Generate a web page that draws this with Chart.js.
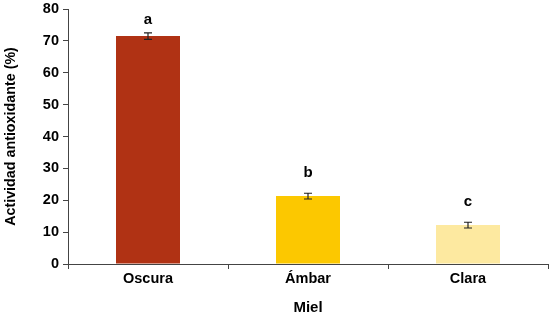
<!DOCTYPE html>
<html><head><meta charset="utf-8">
<script src="https://cdn.jsdelivr.net/npm/chart.js@4/dist/chart.umd.min.js"></script>
<style>html,body{margin:0;padding:0;background:#fff;}#wrap{width:550px;height:317px;}</style>
</head><body><div id="wrap"><canvas id="c" width="550" height="317"></canvas></div>
<script>
const categories = ['Oscura', 'Ámbar', 'Clara'];
const values = [71.5, 21.3, 12.2];
const errors = [1.0, 0.9, 0.9];
const letters = ['a', 'b', 'c'];
const colors = ['#B03214', '#FCC800', '#FDE9A0'];
const yTicks = [0, 10, 20, 30, 40, 50, 60, 70, 80];

const FONT = 'Liberation Sans, Arial, sans-serif';

const errPlugin = {
  id: 'errbars',
  afterDatasetsDraw(chart) {
    const ctx = chart.ctx;
    const meta = chart.getDatasetMeta(0);
    const y = chart.scales.y;
    ctx.save();
    meta.data.forEach((bar, i) => {
      const x = bar.x;
      const yHi = y.getPixelForValue(values[i] + errors[i]);
      const yLo = y.getPixelForValue(values[i] - errors[i]);
      ctx.strokeStyle = '#222';
      ctx.lineWidth = 1.2;
      ctx.beginPath();
      ctx.moveTo(x, yHi); ctx.lineTo(x, yLo);
      ctx.moveTo(x - 4, yHi); ctx.lineTo(x + 4, yHi);
      ctx.moveTo(x - 4, yLo); ctx.lineTo(x + 4, yLo);
      ctx.stroke();
      ctx.fillStyle = '#000';
      ctx.font = 'bold 15px ' + FONT;
      ctx.textAlign = 'center';
      ctx.textBaseline = 'middle';
      const ty = Math.max(yHi - 20, chart.chartArea.top + 11);
      ctx.fillText(letters[i], x, ty);
    });
    ctx.restore();
  }
};

new Chart(document.getElementById('c'), {
  type: 'bar',
  data: {
    labels: categories,
    datasets: [{
      data: values,
      backgroundColor: colors,
      borderWidth: 0,
      barPercentage: 0.4,
      categoryPercentage: 1.0
    }]
  },
  options: {
    responsive: false,
    animation: false,
    layout: { padding: { top: 0, right: 2, left: 2, bottom: 0 } },
    plugins: { legend: { display: false }, tooltip: { enabled: false } },
    scales: {
      x: {
        grid: { display: true, drawOnChartArea: false, offset: true, drawTicks: true, tickLength: 5, color: '#444' },
        border: { display: true, color: '#444', width: 1 },
        ticks: { color: '#000', font: { family: FONT, size: 14.5, weight: 'bold' }, padding: 1 },
        title: { display: true, text: 'Miel', color: '#000', font: { family: FONT, size: 15, weight: 'bold' }, padding: { top: 14, bottom: 0 } },
        afterFit(axis) { axis.height = 53; }
      },
      y: {
        min: 0, max: 80,
        afterBuildTicks(axis) { axis.ticks = yTicks.map(v => ({ value: v })); },
        grid: { display: true, drawOnChartArea: false, drawTicks: true, tickLength: 5, color: '#444' },
        border: { display: true, color: '#444', width: 1 },
        ticks: { color: '#000', font: { family: FONT, size: 14.5, weight: 'bold' }, padding: 4 },
        title: { display: true, text: 'Actividad antioxidante (%)', color: '#000', font: { family: FONT, size: 14.3, weight: 'bold' }, padding: { top: 0, bottom: 8 } },
        afterFit(axis) { axis.width = 66; axis.paddingTop = 9; }
      }
    }
  },
  plugins: [errPlugin]
});
</script>
</body></html>
